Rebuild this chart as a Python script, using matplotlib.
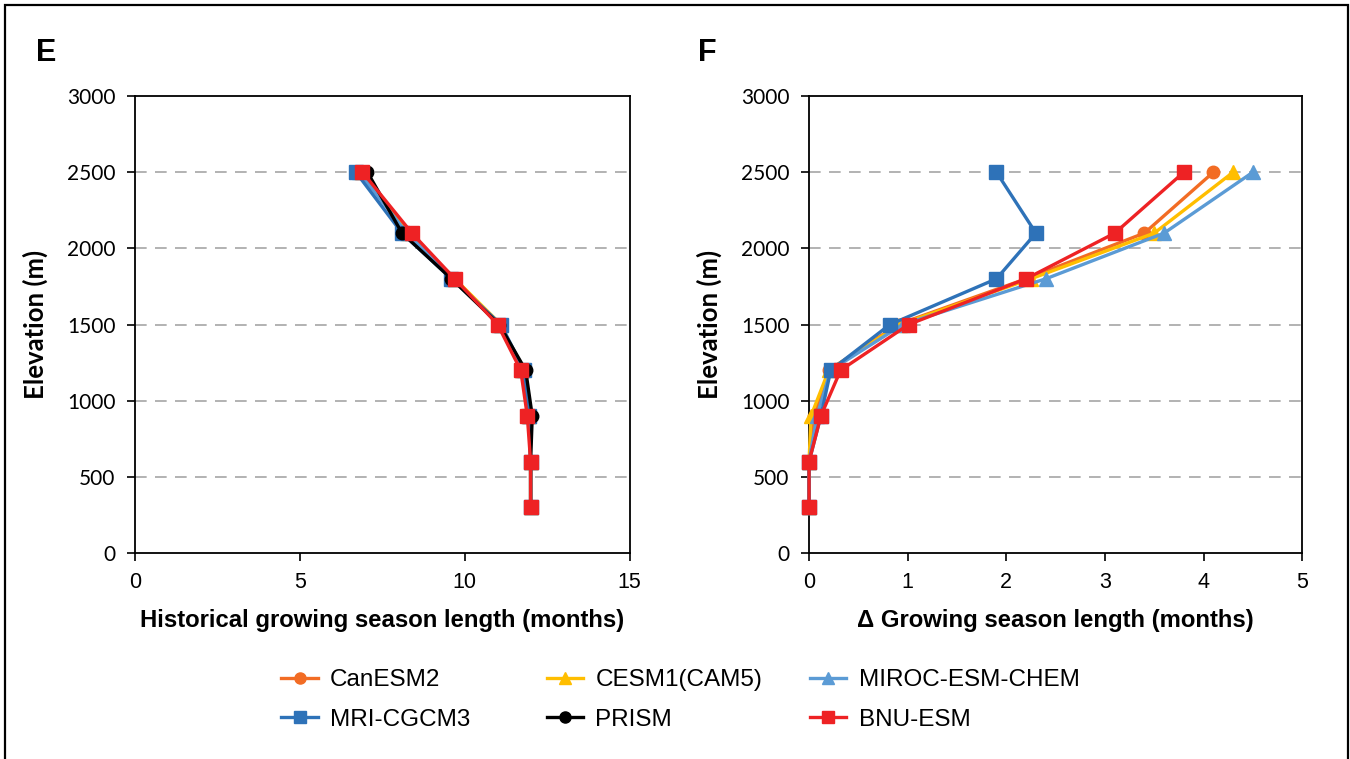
import matplotlib
matplotlib.use("Agg")
import matplotlib.pyplot as plt
from matplotlib.patches import Rectangle

# Elevation bands (m)
elevation = [300, 600, 900, 1200, 1500, 1800, 2100, 2500]

# Historical growing season length (months)
hist_canesm2 = [12.0, 12.0, 11.95, 11.75, 11.05, 9.7, 8.3, 6.85]
hist_cesm1 = [12.0, 12.0, 11.95, 11.75, 11.1, 9.7, 8.3, 6.85]
hist_miroc = [12.0, 12.0, 11.95, 11.75, 11.05, 9.65, 8.25, 6.8]
hist_mri = [12.0, 12.0, 11.95, 11.8, 11.1, 9.6, 8.1, 6.7]
hist_prism = [12.0, 12.0, 12.05, 11.85, 11.05, 9.6, 8.1, 7.05]
hist_bnu = [12.0, 12.0, 11.9, 11.7, 11.0, 9.7, 8.4, 6.9]

# Change in growing season length (months)
delta_canesm2 = [0.0, 0.0, 0.05, 0.2, 0.9, 2.2, 3.4, 4.1]
delta_cesm1 = [0.0, 0.0, 0.02, 0.2, 0.92, 2.25, 3.5, 4.3]
delta_miroc = [0.0, 0.0, 0.08, 0.22, 0.95, 2.4, 3.6, 4.5]
delta_mri = [0.0, 0.0, 0.12, 0.22, 0.82, 1.9, 2.3, 1.9]
delta_bnu = [0.0, 0.0, 0.12, 0.32, 1.01, 2.2, 3.1, 3.8]

names = ["CanESM2", "CESM1(CAM5)", "MIROC-ESM-CHEM", "MRI-CGCM3", "PRISM", "BNU-ESM"]
colors = ["#F26C24", "#FFBE00", "#5B9BD5", "#2E72B8", "#000000", "#EE2224"]
markers = ["o", "^", "^", "s", "o", "s"]
msizes = [9, 9.5, 9.5, 10.5, 9, 10.5]

yticks = [0, 500, 1000, 1500, 2000, 2500, 3000]

TICK_FONT = "Lato"
ARIAL = "Liberation Sans"

fig = plt.figure(figsize=(13.5, 7.59), dpi=100)
fig.patch.set_facecolor("white")
fig.patches.append(Rectangle((0.0037, -0.01), 0.9945, 1.0034, transform=fig.transFigure,
                             fill=False, edgecolor="black", linewidth=1.6))

ax_e = fig.add_axes([0.1, 0.2714, 0.3663, 0.6021])
ax_f = fig.add_axes([0.5993, 0.2714, 0.3653, 0.6021])


def style_axis(ax, xmax, xticks, xlabel):
    ax.set_xlim(0, xmax)
    ax.set_ylim(0, 3000)
    ax.set_yticks(yticks)
    ax.set_xticks(xticks)
    for g in yticks[1:-1]:
        ax.axhline(g, color="#A6A6A6", linewidth=1.2, dashes=(7, 5), zorder=0)
    for sp in ax.spines.values():
        sp.set_linewidth(1.3)
        sp.set_color("black")
    ax.tick_params(direction="out", length=6, width=1.2, pad=8)
    for lab in ax.get_yticklabels():
        lab.set_fontfamily(TICK_FONT)
        lab.set_fontsize(15)
    for lab in ax.get_xticklabels():
        lab.set_fontfamily(ARIAL)
        lab.set_fontsize(15.5)
    ax.set_ylabel("Elevation (m)", fontfamily=TICK_FONT, fontweight="bold",
                  fontsize=18.5)
    ax.yaxis.set_label_coords(-0.176, 0.5)
    ax.set_xlabel(xlabel, fontfamily=ARIAL, fontweight="bold", fontsize=17.2,
                  labelpad=11)


hist_series = [hist_canesm2, hist_cesm1, hist_miroc, hist_mri, hist_prism, hist_bnu]
delta_series = [delta_canesm2, delta_cesm1, delta_miroc, delta_mri, None, delta_bnu]

handles = []
for i, name in enumerate(names):
    h, = ax_e.plot(hist_series[i], elevation, color=colors[i], marker=markers[i],
                   markersize=msizes[i], linewidth=2.4, label=name, zorder=2 + i)
    handles.append(h)
    if delta_series[i] is not None:
        ax_f.plot(delta_series[i], elevation, color=colors[i], marker=markers[i],
                  markersize=msizes[i], linewidth=2.4, zorder=2 + i, clip_on=False)

style_axis(ax_e, 15, [0, 5, 10, 15], "Historical growing season length (months)")
style_axis(ax_f, 5, [0, 1, 2, 3, 4, 5], "\u0394 Growing season length (months)")

fig.text(0.034, 0.93, "E", fontfamily=ARIAL, fontweight="bold", fontsize=22,
         ha="center", va="center")
fig.text(0.524, 0.93, "F", fontfamily=ARIAL, fontweight="bold", fontsize=22,
         ha="center", va="center")

# Legend laid out as three columns of two entries
col_x = [0.2085, 0.405, 0.600]
for c in range(3):
    leg = fig.legend([handles[c], handles[c + 3]], [names[c], names[c + 3]],
                     loc="upper left", bbox_to_anchor=(col_x[c], 0.118),
                     frameon=False, prop={"family": ARIAL, "size": 17.5},
                     handlelength=1.5, handletextpad=0.5, labelspacing=0.72,
                     borderaxespad=0, borderpad=0)
    for lh in leg.legend_handles:
        lh.set_markersize(8)

fig.savefig("out.png", dpi=100, facecolor="white")
